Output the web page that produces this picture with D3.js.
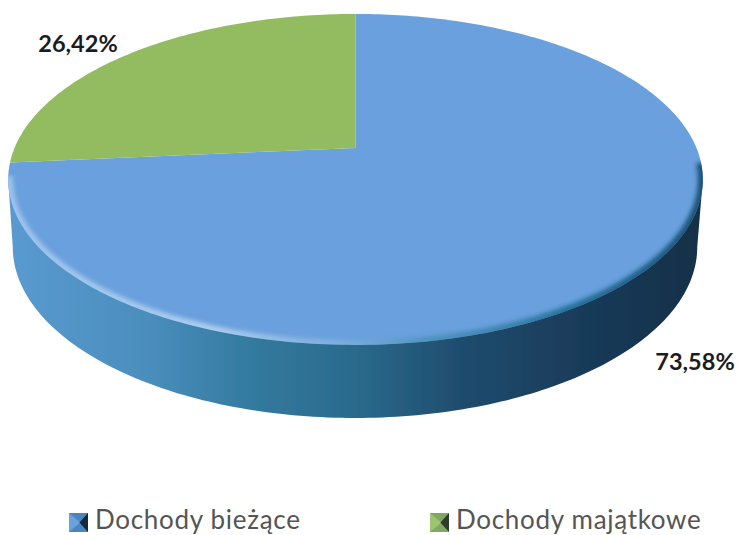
<!DOCTYPE html>
<html>
<head>
<meta charset="utf-8">
<script src="https://cdn.jsdelivr.net/npm/d3@7"></script>
<style>
  html, body { margin: 0; padding: 0; background: #fff; }
  svg { display: block; }
</style>
</head>
<body>
<div id="chart"></div>
<script>
// Values
const categories = ["Dochody bieżące", "Dochody majątkowe"];
const values = [73.58, 26.42];
const valueLabels = ["73,58%", "26,42%"];

const faceColors = ["#69a0dd", "#93bb60"];
const markerColors = [
  { left: "#6aa3dc", mid: "#4a86bb", right: "#14293d" },
  { left: "#9cc56f", mid: "#7fa862", right: "#2c3d2a" }
];

const width = 737;
const height = 535;

const svg = d3.select("#chart")
  .append("svg")
    .attr("width", width)
    .attr("height", height);

const defs = svg.append("defs");

// Side of the disc, light on the left and dark on the right
const sideGrad = defs.append("linearGradient")
    .attr("id", "side-grad")
    .attr("gradientUnits", "userSpaceOnUse")
    .attr("x1", 8).attr("x2", 703).attr("y1", 0).attr("y2", 0);
[[0, "#5a9ad0"], [0.2, "#4a8ebd"], [0.35, "#337a9f"], [0.5, "#2a6a8c"], [0.65, "#1f4d6e"], [0.8, "#1a3d5c"], [1, "#152f49"]]
  .forEach(([o, c]) => sideGrad.append("stop").attr("offset", o).attr("stop-color", c));

// Rim of the top face, a highlight that turns into shadow
const rimGrad = defs.append("linearGradient")
    .attr("id", "rim-grad")
    .attr("gradientUnits", "userSpaceOnUse")
    .attr("x1", 8).attr("x2", 703).attr("y1", 0).attr("y2", 0);
[[0, "#a9cbee", 0.8], [0.3, "#b4d2f0", 0.9], [0.46, "#9cc4e4", 0.45], [0.6, "#3f8bb0", 0.6], [0.8, "#1f6f95", 0.9], [1, "#164a6c", 0.9]]
  .forEach(([o, c, a]) => rimGrad.append("stop").attr("offset", o).attr("stop-color", c).attr("stop-opacity", a));

defs.append("filter").attr("id", "rim-blur")
  .append("feGaussianBlur").attr("stdDeviation", 2.2);
defs.append("filter").attr("id", "soft")
  .append("feGaussianBlur").attr("stdDeviation", 0.5);

defs.append("clipPath").attr("id", "top-clip")
  .append("path").attr("id", "top-clip-path");

// Disc seen in perspective: angle on the disc goes to a point on the page
const persp = 0.19;
const topRing = { cx: 355.5, cy: 148, rx: 341, ry: 159.5 };
const bottomRing = { cx: 355, cy: 214.5, rx: 336, ry: 164.8 };

function project(ring, angle) {
  const u = Math.sin(angle);
  const v = -Math.cos(angle);
  const s = 1 / (1 - persp * v);
  return [ring.cx + ring.rx * u * s, ring.cy + ring.ry * v * s];
}

function sampleArc(ring, a0, a1) {
  const steps = Math.max(2, Math.ceil(Math.abs(a1 - a0) * 60));
  return d3.range(steps + 1).map(i => project(ring, a0 + (a1 - a0) * i / steps));
}

const line = d3.line();

const pie = d3.pie().sort(null).value(d => d);
const slices = pie(values);

const disc = svg.append("g").attr("filter", "url(#soft)");

// Side wall, from the right extreme of the top face round the front to the left one
const rightExtreme = Math.PI / 2 + Math.asin(persp);
const leftExtreme = 2 * Math.PI - rightExtreme;
const sidePoints = [project(topRing, rightExtreme)]
  .concat(sampleArc(bottomRing, rightExtreme, leftExtreme))
  .concat([project(topRing, leftExtreme)]);

disc.append("path")
    .attr("d", line(sidePoints) + "Z")
    .attr("fill", "url(#side-grad)");

// Top face slices
disc.selectAll("path.slice")
  .data(slices)
  .join("path")
    .attr("class", "slice")
    .attr("d", d => line([[topRing.cx, topRing.cy]].concat(sampleArc(topRing, d.startAngle, d.endAngle))) + "Z")
    .attr("fill", (d, i) => faceColors[i]);

// Bevel along the front edge
d3.select("#top-clip-path")
  .attr("d", line(sampleArc(topRing, 0, 2 * Math.PI)) + "Z");

disc.append("g")
    .attr("clip-path", "url(#top-clip)")
  .append("path")
    .attr("d", line(sampleArc(topRing, rightExtreme - 0.1, leftExtreme + 0.02)))
    .attr("fill", "none")
    .attr("stroke", "url(#rim-grad)")
    .attr("stroke-width", 10)
    .attr("filter", "url(#rim-blur)");

// Value labels
const labelPos = [[695, 370], [78, 52]];

svg.selectAll("text.value")
  .data(valueLabels)
  .join("text")
    .attr("class", "value")
    .attr("x", (d, i) => labelPos[i][0])
    .attr("y", (d, i) => labelPos[i][1])
    .attr("text-anchor", "middle")
    .style("font-family", "Lato, sans-serif")
    .style("font-weight", "bold")
    .style("font-size", "23.5px")
    .style("fill", "#1c1c1c")
    .text(d => d);

// Legend
const legendX = [69, 430];
const legendY = 513;
const box = 19;

const legend = svg.selectAll("g.legend")
  .data(categories)
  .join("g")
    .attr("class", "legend")
    .attr("transform", (d, i) => `translate(${legendX[i]},${legendY})`);

legend.append("rect")
    .attr("width", box)
    .attr("height", box)
    .attr("fill", (d, i) => markerColors[i].mid);

legend.append("path")
    .attr("d", line([[0, 0], [box * 0.6, box / 2], [0, box]]) + "Z")
    .attr("fill", (d, i) => markerColors[i].left);

legend.append("path")
    .attr("d", line([[box, 0], [box * 0.55, box / 2], [box, box]]) + "Z")
    .attr("fill", (d, i) => markerColors[i].right);

legend.append("text")
    .attr("x", box + 7)
    .attr("y", 16)
    .style("font-family", "Lato, sans-serif")
    .style("font-size", "26px")
    .style("letter-spacing", "0.7px")
    .style("fill", "#555")
    .text(d => d);
</script>
</body>
</html>
